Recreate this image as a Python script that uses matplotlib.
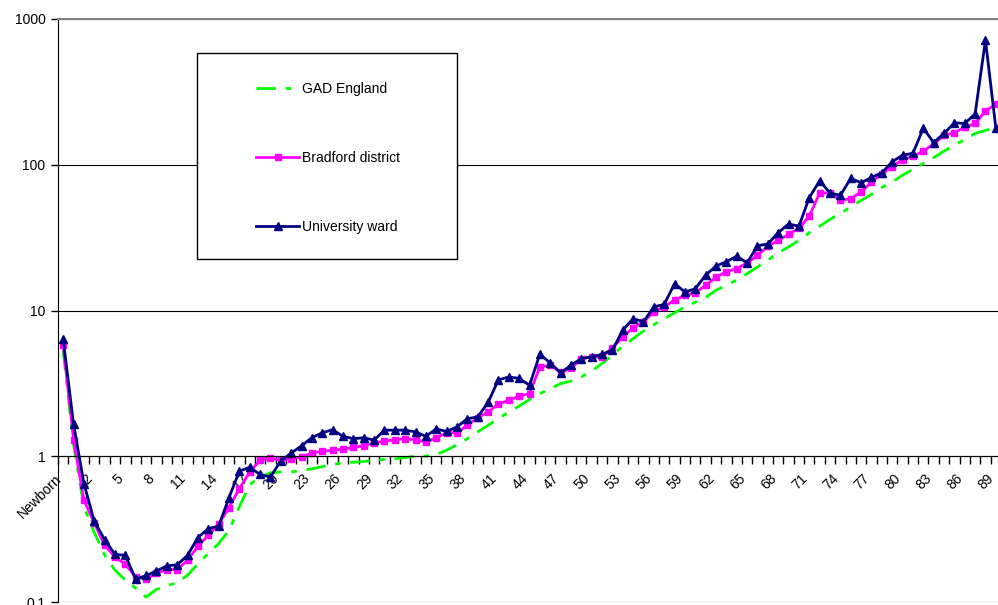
import matplotlib
matplotlib.use("Agg")
import matplotlib.pyplot as plt
from matplotlib.patches import Rectangle
from matplotlib.transforms import ScaledTranslation
import numpy as np

plt.rcParams['font.family'] = ['Liberation Sans', 'DejaVu Sans']

categories = ["Newborn"] + [str(a) for a in range(0, 90)]

gad_england = [5.3, 1.2, 0.45, 0.30, 0.21, 0.165, 0.141, 0.124, 0.108, 0.122,
               0.13, 0.135, 0.153, 0.183, 0.215, 0.252, 0.31, 0.45, 0.64, 0.72,
               0.77, 0.78, 0.78, 0.80, 0.82, 0.85, 0.88, 0.90, 0.91, 0.92,
               0.94, 0.95, 0.96, 0.98, 1.0, 1.0, 1.03, 1.10, 1.20, 1.32,
               1.47, 1.63, 1.82, 2.01, 2.21, 2.45, 2.69, 2.91, 3.15, 3.28,
               3.50, 3.85, 4.33, 4.93, 5.69, 6.42, 7.24, 8.0, 8.8, 9.63,
               10.6, 11.4, 12.3, 13.8, 14.9, 16.2, 17.9, 19.9, 22.2, 24.9,
               27.3, 30.3, 34.2, 37.9, 42.2, 46.4, 51.5, 57, 62.6, 69.9,
               76, 84.9, 93, 102, 112, 124, 136, 149, 164, 172, 180]

bradford = [5.78, 1.30, 0.50, 0.348, 0.245, 0.204, 0.181, 0.149, 0.143, 0.158,
            0.167, 0.167, 0.193, 0.241, 0.287, 0.341, 0.445, 0.60, 0.78, 0.94,
            0.97, 0.94, 0.96, 0.99, 1.05, 1.08, 1.10, 1.12, 1.15, 1.18,
            1.23, 1.27, 1.30, 1.32, 1.30, 1.25, 1.34, 1.45, 1.45, 1.63,
            1.84, 2.01, 2.28, 2.42, 2.59, 2.69, 4.10, 4.21, 3.79, 4.0,
            4.68, 4.8, 4.8, 5.57, 6.58, 7.62, 8.36, 9.82, 10.6, 11.8,
            12.7, 13.2, 14.9, 17.0, 18.4, 19.4, 21.2, 23.9, 27.6, 30.3,
            33.3, 36.6, 44.5, 64, 64, 57, 58.5, 65, 76, 86.7,
            96.9, 108.6, 114, 124, 139, 159, 166, 181, 192, 233, 261]

university = [6.35, 1.66, 0.65, 0.358, 0.268, 0.212, 0.209, 0.143, 0.152, 0.163,
              0.177, 0.18, 0.209, 0.277, 0.319, 0.331, 0.52, 0.79, 0.84, 0.75,
              0.72, 0.93, 1.05, 1.18, 1.34, 1.45, 1.52, 1.37, 1.32, 1.34,
              1.29, 1.51, 1.51, 1.51, 1.47, 1.37, 1.54, 1.48, 1.59, 1.81,
              1.86, 2.34, 3.34, 3.50, 3.42, 3.07, 5.01, 4.37, 3.73, 4.21,
              4.68, 4.8, 5.01, 5.34, 7.33, 8.8, 8.36, 10.6, 11.0, 15.3,
              13.4, 14.1, 17.5, 20.2, 21.6, 23.6, 21.2, 27.8, 28.6, 34.2,
              39.2, 37.9, 59.5, 77.6, 64, 61.7, 80.6, 75.2, 81.9, 88.0,
              104.8, 116.4, 119.8, 178, 142, 164, 194, 192, 223, 716, 179]

yticks = [0.1, 1, 10, 100, 1000]
ytick_labels = ["0.1", "1", "10", "100", "1000"]

x = np.arange(len(categories))

fig = plt.figure(figsize=(9.98, 6.05), dpi=100)
ax = fig.add_axes([58 / 998, 3 / 605, 943 / 998, 583 / 605])

ax.plot(x, gad_england, color='#00ff00', lw=2, linestyle=(0, (7, 3.5, 2, 3.5)),
        label='GAD England')
ax.plot(x, bradford, color='#ff00ff', lw=2, marker='s', markersize=5,
        label='Bradford district')
ax.plot(x, university, color='#000080', lw=2, marker='^', markersize=5.5,
        label='University ward')

ax.set_yscale('log')
ax.set_ylim(0.1, 1000)
ax.set_xlim(-0.5, len(categories) - 0.5)
ax.set_yticks(yticks)
ax.set_yticklabels(ytick_labels, fontsize=10)
ax.minorticks_off()
ax.tick_params(axis='y', length=5, width=1, color='black', pad=4)
ax.yaxis.grid(True, color='black', lw=0.8)

ax.spines['bottom'].set_position(('data', 1))
ax.spines['right'].set_visible(False)
ax.spines['top'].set_color('#808080')
ax.spines['top'].set_linewidth(1.5)

ax.set_xticks(x[::3])
ax.set_xticklabels(categories[::3], rotation=45, ha='right',
                   rotation_mode='anchor', fontsize=10)
ax.set_xticks(np.arange(-0.5, len(categories), 1), minor=True)
ax.tick_params(axis='x', which='major', length=0, pad=11)
ax.tick_params(axis='x', which='minor', length=6, width=1, direction='out')
shift = ScaledTranslation(-9 / 100, 0, fig.dpi_scale_trans)
for lbl in ax.get_xticklabels():
    lbl.set_transform(lbl.get_transform() + shift)

ax.add_patch(Rectangle((197 / 998, 1 - 259 / 605), 260 / 998, 206 / 605,
                       transform=fig.transFigure, facecolor='white',
                       edgecolor='black', lw=1, zorder=4, clip_on=False))
leg = ax.legend(loc='upper left', bbox_to_anchor=(256 / 998, 1 - 82 / 605),
                bbox_transform=fig.transFigure, frameon=False, fontsize=10,
                borderpad=0, handlelength=3.1, handletextpad=0.2,
                labelspacing=3.95, borderaxespad=0)
leg.set_zorder(6)

fig.savefig('out.png', dpi=100)
